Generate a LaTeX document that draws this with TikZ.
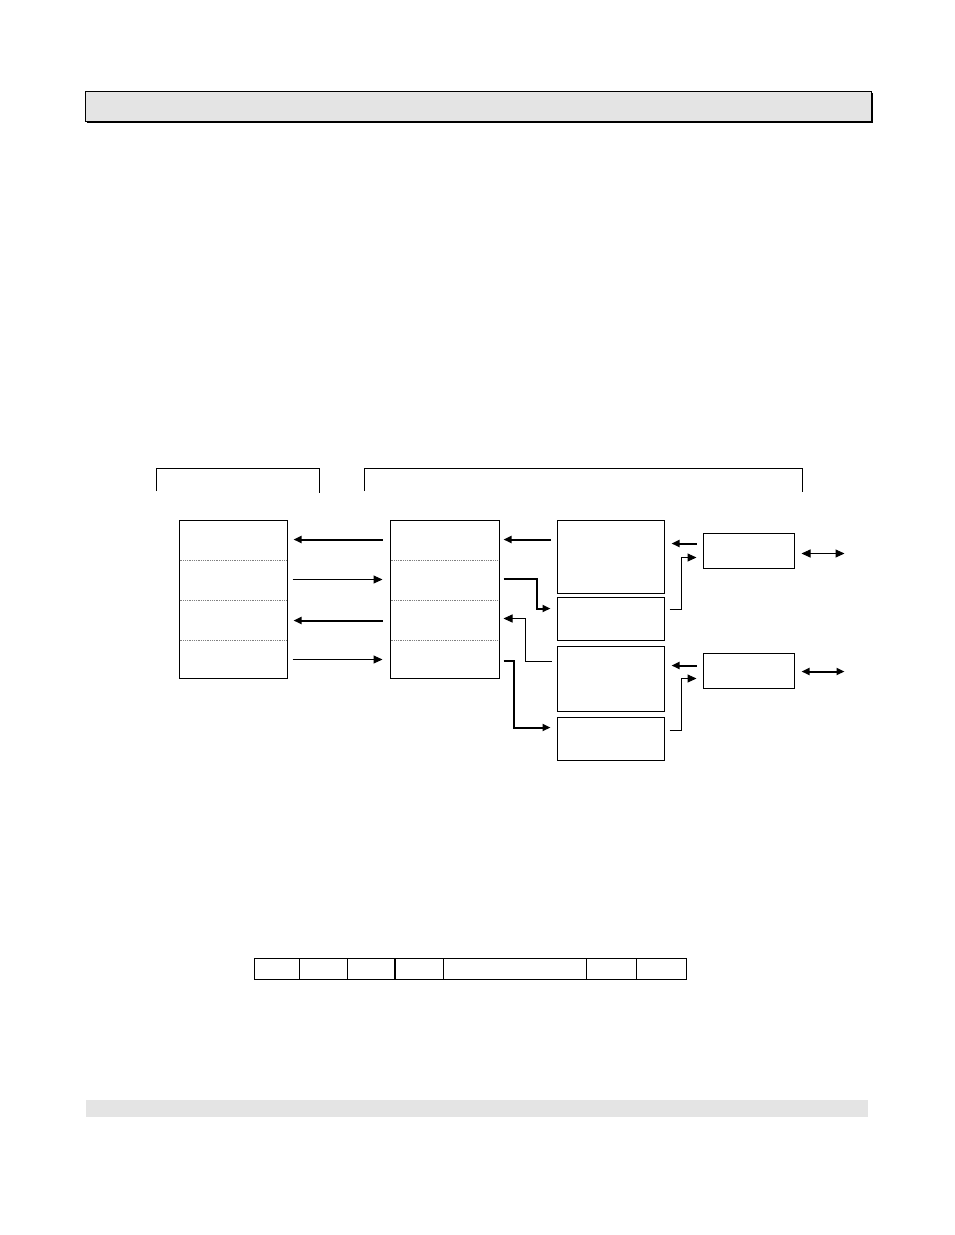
\documentclass[tikz,border=0pt]{standalone}
\usetikzlibrary{shapes,arrows.meta}
\definecolor{barfill}{HTML}{E4E4E4}

\begin{document}
\begin{tikzpicture}[x=1pt,y=-1pt,
    >={Triangle[length=8pt,width=7pt]},
    box/.style={draw,rectangle,line width=1pt,inner sep=0pt},
    stack/.style={box,minimum width=108pt,minimum height=158pt},
    unit/.style={box,minimum width=107pt},
    port/.style={box,minimum width=91pt,minimum height=35pt},
    divider/.style={densely dotted,gray,line width=0.8pt},
    thin/.style={line width=1pt,-{Triangle[length=9pt,width=8pt]}},
    fat/.style={line width=2pt,->}
    ]
    \useasboundingbox (0,0) rectangle (954,1235);

    % header and footer bars
    \fill[black] (87,93) rectangle (873,123);
    \node[box,fill=barfill,minimum width=786pt,minimum height=30pt] (header) at (478,106) {};
    \node[fill=barfill,inner sep=0pt,minimum width=782pt,minimum height=17pt] (footer) at (477,1108.5) {};

    % brackets
    \draw[line width=1pt] (156,491) |- (319,468) -- (319,493);
    \draw[line width=1pt] (364,491) |- (802,468) -- (802,492);

    % stacks
    \node[stack] (A) at (233,599) {};
    \node[stack,minimum width=109pt] (B) at (444.5,599) {};
    \foreach \y in {560,600,640} {
        \draw[divider] (179.5,\y) -- (286.5,\y);
        \draw[divider] (390.5,\y) -- (498.5,\y);
    }

    % units
    \node[unit,minimum height=73pt] (C1) at (610.5,556.5) {};
    \node[unit,minimum height=43pt] (C2) at (610.5,618.5) {};
    \node[unit,minimum height=65pt] (C3) at (610.5,678.5) {};
    \node[unit,minimum height=43pt] (C4) at (610.5,738.5) {};

    \node[port] (D1) at (748.5,550.5) {};
    \node[port] (D2) at (748.5,670.5) {};

    % A <-> B
    \draw[fat] ([shift={(-7,20)}]B.north west) -- ([shift={(6,20)}]A.north east);
    \draw[thin] ([shift={(5,60)}]A.north east) -- ([shift={(-7,60)}]B.north west);
    \draw[fat] ([shift={(-7,101)}]B.north west) -- ([shift={(6,101)}]A.north east);
    \draw[thin] ([shift={(5,140)}]A.north east) -- ([shift={(-7,140)}]B.north west);

    % B <-> C
    \draw[fat] ([shift={(-6,20)}]C1.north west) -- ([shift={(4,20)}]B.north east);
    \draw[fat] ([shift={(4,59)}]B.north east) -- ++(33,0) |- ([shift={(-6,12)}]C2.north west);
    \draw[thin] ([shift={(-5,16)}]C3.north west) -- ++(-26,0) |- ([shift={(4,99)}]B.north east);
    \draw[fat] ([shift={(4,141)}]B.north east) -- ++(10,0) |- ([shift={(-6,11)}]C4.north west);

    % C <-> D
    \draw[fat] ([shift={(-6,11)}]D1.north west) -- ([shift={(7,24)}]C1.north east);
    \draw[thin] ([shift={(5,13)}]C2.north east) -- ++(12,0) |- ([shift={(-6,25)}]D1.north west);
    \draw[fat] ([shift={(-6,13)}]D2.north west) -- ([shift={(7,20)}]C3.north east);
    \draw[thin] ([shift={(5,14)}]C4.north east) -- ++(12,0) |- ([shift={(-6,26)}]D2.north west);

    % outside links
    \draw[line width=1pt,{Triangle[length=9pt,width=8pt]}-{Triangle[length=9pt,width=8pt]}] ([shift={(7,3)}]D1.east) -- ++(43,0);
    \draw[line width=2pt,<->] ([shift={(7,1)}]D2.east) -- ++(43,0);

    % frame table
    \draw[line width=1pt] (254,958) rectangle (686,979);
    \foreach \x in {299,347,443,586,636}
        \draw[line width=1pt] (\x,958) -- (\x,979);
    \draw[line width=2pt] (395,958) -- (395,979);

\end{tikzpicture}
\end{document}
